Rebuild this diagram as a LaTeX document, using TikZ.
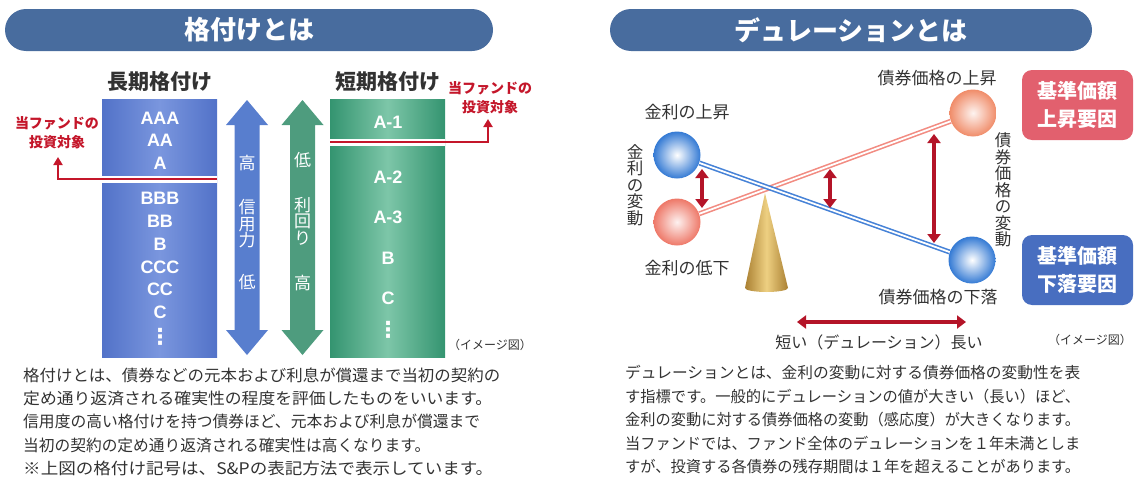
\documentclass[tikz,border=0pt]{standalone}
\usepackage{fontspec}
\usepackage{graphicx}
\setmainfont{Noto Sans CJK JP}
\newfontfamily\ratingfont{Liberation Sans}
\newfontfamily\dotfont{DejaVu Sans}
\usetikzlibrary{arrows.meta}
\definecolor{hdr}{RGB}{72,108,158}
\definecolor{colbedge}{RGB}{82,114,200}
\definecolor{colbmid}{RGB}{122,150,222}
\definecolor{colgedge}{RGB}{52,148,112}
\definecolor{colgmid}{RGB}{125,198,168}
\definecolor{arrb}{RGB}{88,126,206}
\definecolor{arrg}{RGB}{78,156,126}
\definecolor{redc}{RGB}{196,22,42}
\definecolor{darkred}{RGB}{180,20,40}
\definecolor{txt}{RGB}{50,50,50}
\definecolor{pinkbox}{RGB}{226,96,110}
\definecolor{bluebox}{RGB}{72,110,192}
\definecolor{ballb}{RGB}{52,122,212}
\definecolor{ballp}{RGB}{238,120,104}
\definecolor{ballp2}{RGB}{240,140,105}
\definecolor{lineb}{RGB}{70,130,215}
\definecolor{linep}{RGB}{242,140,130}
\definecolor{gold1}{RGB}{170,128,50}
\definecolor{gold2}{RGB}{238,208,130}
\newcommand{\fitw}[2]{\resizebox{#1pt}{\height}{#2}}
\begin{document}
\begin{tikzpicture}[x=1pt,y=-1pt,
  pill/.style={rounded corners=21pt,fill=hdr,text=white,inner sep=0pt,minimum height=42pt,
    font=\fontsize{26}{26}\selectfont\bfseries},
  coltitle/.style={text=txt,font=\fontsize{21}{21}\selectfont\bfseries,inner sep=0pt},
  rating/.style={text=white,font=\ratingfont\bfseries\fontsize{18}{18}\selectfont,inner sep=0pt},
  vdots/.style={text=white,inner sep=0pt,font=\dotfont\bfseries\fontsize{22}{22}\selectfont},
  vtext/.style={text=white,align=center,inner sep=0pt,font=\fontsize{17}{17}\selectfont},
  ann/.style={text=redc,align=center,inner sep=0pt,font=\fontsize{14}{18.5}\selectfont\bfseries},
  redline/.style={draw=redc,line width=2pt,-{Triangle[length=8pt,width=9pt]}},
  lbl/.style={text=txt,inner sep=0pt,font=\fontsize{17}{17}\selectfont},
  vlbl/.style={text=txt,inner sep=0pt,align=center,font=\fontsize{16.5}{16.5}\selectfont},
  note/.style={text=txt,inner sep=0pt,font=\fontsize{12}{12}\selectfont},
  para/.style={text=txt,inner sep=0pt,anchor=west,font=\fontsize{16}{16}\selectfont},
  parar/.style={text=txt,inner sep=0pt,anchor=west,font=\fontsize{15.6}{16}\selectfont},
  box/.style={rounded corners=10pt,text=white,align=center,minimum width=111pt,minimum height=70pt,
    inner sep=0pt,font=\fontsize{20}{28}\selectfont\bfseries},
  ball/.style={circle,minimum size=47pt,inner sep=0pt},
  rarrow/.style={draw=darkred,line width=3.5pt,{Triangle[length=9pt,width=13pt]}-{Triangle[length=9pt,width=13pt]}},
  dline/.style={line width=1.6pt,double=white,double distance=1.8pt}
]
\useasboundingbox (0,0) rectangle (1141,482);

% headers
\node[pill,minimum width=488pt] (h1) at (249,30) {格付けとは};
\node[pill,minimum width=482pt] (h2) at (851,30) {デュレーションとは};

% ---------- left part ----------
\node[coltitle] (lt) at (160,82) {長期格付け};
\node[coltitle] (st) at (388,82) {短期格付け};

\node[minimum width=115pt,minimum height=258pt,inner sep=0pt,
  left color=colbedge,right color=colbedge,middle color=colbmid] (lc) at (159.5,228) {};
\node[minimum width=115pt,minimum height=258pt,inner sep=0pt,
  left color=colgedge,right color=colgedge,middle color=colgmid] (gc) at (387.5,228) {};
\fill[white] (102,175.5) rectangle (217,183);
\fill[white] (330,138.5) rectangle (445,146);

% ratings
\node[rating] (r1) at (160,118) {AAA};
\node[rating] (r2) at (160,140) {AA};
\node[rating] (r3) at (160,163) {A};
\node[rating] (r4) at (160,198) {BBB};
\node[rating] (r5) at (160,221) {BB};
\node[rating] (r6) at (160,244) {B};
\node[rating] (r7) at (160,267) {CCC};
\node[rating] (r8) at (160,289) {CC};
\node[rating] (r9) at (160,312) {C};
\node[vdots] (r10) at (160,337) {⋮};
\node[rating] (s1) at (388,122) {A-1};
\node[rating] (s2) at (388,177) {A-2};
\node[rating] (s3) at (388,217) {A-3};
\node[rating] (s4) at (388,258) {B};
\node[rating] (s5) at (388,298) {C};
\node[vdots] (s6) at (388,330) {⋮};

% vertical double arrows
\fill[arrb] (247,100) -- (268,125) -- (259.5,125) -- (259.5,330) -- (268,330) -- (247,355)
  -- (226,330) -- (234.5,330) -- (234.5,125) -- (226,125) -- cycle;
\fill[arrg] (302.5,100) -- (323.5,125) -- (315,125) -- (315,330) -- (323.5,330) -- (302.5,355)
  -- (281.5,330) -- (290,330) -- (290,125) -- (281.5,125) -- cycle;
\node[vtext] (va1) at (247,163) {高};
\node[vtext,font=\fontsize{17}{16.5}\selectfont] (va2) at (247,224) {信\\用\\力};
\node[vtext] (va3) at (247,282) {低};
\node[vtext] (vg1) at (302.5,160) {低};
\node[vtext,font=\fontsize{17}{16.5}\selectfont] (vg2) at (302.5,221) {利\\回\\り};
\node[vtext] (vg3) at (302.5,283) {高};

% red annotations
\coordinate (la) at (217,179);
\coordinate (lb) at (58,179);
\coordinate (lc2) at (58,157);
\draw[redline] (la) -- (lb) -- (lc2);
\node[ann] (an1) at (57,132.5) {当ファンドの\\投資対象};
\coordinate (ga) at (330,142);
\coordinate (gb) at (488,142);
\coordinate (gc2) at (488,119);
\draw[redline] (ga) -- (gb) -- (gc2);
\node[ann] (an2) at (490,97.5) {当ファンドの\\投資対象};
\node[note] (im1) at (490,345) {（イメージ図）};

% left paragraph
\node[para] (p1) at (23,375) {\fitw{477}{格付けとは、債券などの元本および利息が償還まで当初の契約の}};
\node[para] (p2) at (23,398) {\fitw{469}{定め通り返済される確実性の程度を評価したものをいいます。}};
\node[para] (p3) at (23,421) {\fitw{457}{信用度の高い格付けを持つ債券ほど、元本および利息が償還まで}};
\node[para] (p4) at (23,445) {\fitw{407}{当初の契約の定め通り返済される確実性は高くなります。}};
\node[para] (p5) at (23,468) {\fitw{470}{※上図の格付け記号は、S\&Pの表記方法で表示しています。}};

% ---------- right part ----------
\node[lbl] (kl1) at (687,112) {金利の上昇};
\node[lbl] (kl2) at (687,268) {金利の低下};
\node[vlbl] (kv) at (635,185) {金\\利\\の\\変\\動};
\node[lbl] (bl1) at (937,78) {債券価格の上昇};
\node[lbl] (bl2) at (938,297) {債券価格の下落};
\node[vlbl] (bv) at (1003,190) {債\\券\\価\\格\\の\\変\\動};

% cone
\shade[left color=gold1,right color=gold1,middle color=gold2]
  (765,193) -- (788,288) arc[start angle=0,end angle=-180,x radius=21.5pt,y radius=4pt] -- cycle;

% balls
\node[ball,inner color=white,outer color=ballb] (b1) at (677,155) {};
\node[ball,inner color=white!90!ballp,outer color=ballp] (b2) at (677,222) {};
\node[ball,inner color=white!90!ballp2,outer color=ballp2] (b3) at (973,113) {};
\node[ball,inner color=white,outer color=ballb] (b4) at (972,260) {};

% seesaw lines
\draw[dline,draw=linep] (b2) -- (b3);
\draw[dline,draw=lineb] (b1) -- (b4);

% red arrows
\coordinate (a1s) at (702,169);
\coordinate (a1e) at (702,208);
\draw[rarrow] (a1s) -- (a1e);
\coordinate (a2s) at (830,169);
\coordinate (a2e) at (830,208);
\draw[rarrow] (a2s) -- (a2e);
\coordinate (a3s) at (934,134);
\coordinate (a3e) at (934,243);
\draw[rarrow] (a3s) -- (a3e);
\coordinate (a4s) at (797,322);
\coordinate (a4e) at (966,322);
\draw[rarrow] (a4s) -- (a4e);
\node[lbl,font=\fontsize{16}{16}\selectfont] (dl) at (879,342) {短い（デュレーション）長い};

% boxes
\node[box,fill=pinkbox] (ub) at (1077.5,105) {基準価額\\上昇要因};
\node[box,fill=bluebox] (db) at (1077.5,270) {基準価額\\下落要因};
\node[note] (im2) at (1090,340) {（イメージ図）};

% right paragraph
\node[parar] (q1) at (625,373) {\fitw{455}{デュレーションとは、金利の変動に対する債券価格の変動性を表}};
\node[parar] (q2) at (625,397) {\fitw{455}{す指標です。一般的にデュレーションの値が大きい（長い）ほど、}};
\node[parar] (q3) at (625,420) {\fitw{455}{金利の変動に対する債券価格の変動（感応度）が大きくなります。}};
\node[parar] (q4) at (625,443) {\fitw{455}{当ファンドでは、ファンド全体のデュレーションを１年未満としま}};
\node[parar] (q5) at (625,467) {\fitw{455}{すが、投資する各債券の残存期間は１年を超えることがあります。}};
\end{tikzpicture}
\end{document}
